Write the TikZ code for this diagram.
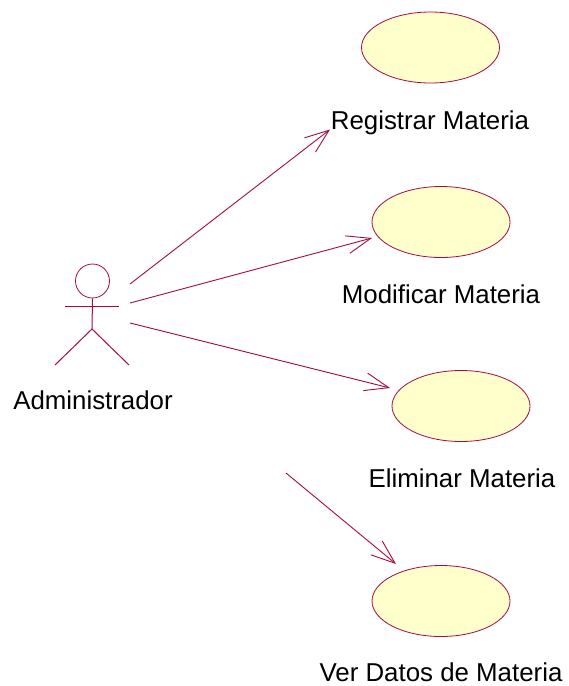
\documentclass[tikz,border=0pt]{standalone}
\usepackage{fontspec}
\setmainfont{Liberation Sans}
\usetikzlibrary{arrows.meta,shapes.geometric}
\definecolor{rose}{RGB}{165,10,70}
\definecolor{ucfill}{RGB}{255,255,204}
\tikzset{
  usecase/.style={ellipse,draw=rose,fill=ucfill,line width=0.8pt,minimum width=138pt,minimum height=71pt,inner sep=0pt},
  lbl/.style={inner sep=0pt,text=black,font=\fontsize{25.85pt}{28pt}\selectfont,anchor=base},
  stick/.style={draw=rose,line width=1pt},
  assoc/.style={draw=rose,line width=0.9pt,-{Straight Barb[length=24pt,width=18pt,line width=0.9pt]}}
}
\begin{document}
\begin{tikzpicture}[x=1pt,y=-1pt]
\useasboundingbox (0,0) rectangle (569,686);
\node[usecase] (uc1) at (430.5,47.5) {};
\node[usecase] (uc2) at (441,222) {};
\node[usecase] (uc3) at (461,406) {};
\node[usecase] (uc4) at (441,601) {};
\node[lbl] (l1) at (430,129) {Registrar Materia};
\node[lbl] (l2) at (441,303) {Modificar Materia};
\node[lbl] (l3) at (462,487) {Eliminar Materia};
\node[lbl] (l4) at (441,681) {Ver Datos de Materia};
\node[lbl] (l0) at (93,409) {Administrador};
% actor
\node[circle,draw=rose,line width=0.8pt,minimum size=34pt,inner sep=0pt] (actor) at (92.5,281) {};
\coordinate (hip) at (92,329);
\coordinate (armL) at (65,306);
\coordinate (armR) at (119,306);
\coordinate (footL) at (55,365);
\coordinate (footR) at (129,365);
\draw[stick] (actor.south) -- (hip);
\draw[stick] (armL) -- (armR);
\draw[stick] (footL) -- (hip) -- (footR);
% associations
\draw[assoc] ([shift={(37.5,3)}]actor.center) -- ([shift={(-100.5,82)}]uc1.center);
\draw[assoc] ([shift={(37.5,22)}]actor.center) -- ([shift={(-69,16)}]uc2.center);
\draw[assoc] ([shift={(37.5,42)}]actor.center) -- ([shift={(-71,-18)}]uc3.center);
\draw[assoc] ([shift={(193.5,192)}]actor.center) -- ([shift={(-45,-37)}]uc4.center);
\end{tikzpicture}
\end{document}
